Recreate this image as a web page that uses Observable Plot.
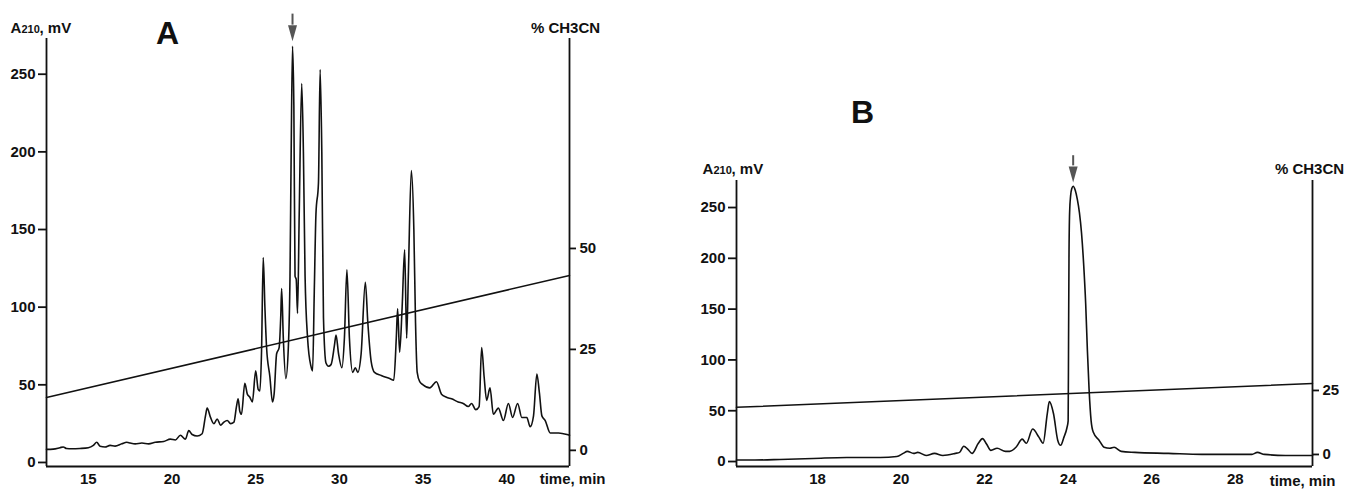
<!DOCTYPE html>
<html>
<head>
<meta charset="utf-8">
<script src="https://cdn.jsdelivr.net/npm/d3@7"></script>
<script src="https://cdn.jsdelivr.net/npm/@observablehq/plot@0.6"></script>
<style>
  html, body { margin: 0; padding: 0; background: #fff; }
  #wrap { position: relative; width: 1345px; height: 489px; overflow: hidden; }
  #pa { position: absolute; left: 0; top: 0; }
  #pb { position: absolute; left: 625px; top: 0; }
  svg { overflow: visible; }
</style>
</head>
<body>
<div id="wrap"><div id="pa"></div><div id="pb"></div></div>
<script>
// ---------- Panel A data ----------
const timeA = [12.5,12.9,13.3,13.5,13.7,14.0,14.5,15.0,15.3,15.5,15.7,16.0,16.3,16.6,17.0,17.3,17.5,17.8,18.2,18.6,19.0,19.5,19.9,20.2,20.5,20.8,21.0,21.2,21.5,21.8,22.0,22.1,22.3,22.5,22.7,22.9,23.1,23.3,23.5,23.7,23.85,23.95,24.05,24.15,24.35,24.5,24.65,24.8,25.0,25.15,25.25,25.35,25.45,25.55,25.65,25.85,26.0,26.1,26.25,26.4,26.5,26.55,26.65,26.8,26.95,27.05,27.12,27.2,27.28,27.35,27.42,27.5,27.6,27.75,27.85,27.95,28.1,28.3,28.4,28.5,28.6,28.75,28.85,28.95,29.05,29.2,29.35,29.5,29.7,29.8,29.95,30.15,30.3,30.45,30.6,30.8,30.95,31.1,31.3,31.55,31.7,31.9,32.1,32.5,33.0,33.25,33.4,33.48,33.6,33.75,33.9,34.02,34.12,34.3,34.45,34.55,34.65,34.8,35.0,35.4,35.8,36.1,36.4,36.7,37.1,37.4,37.7,37.9,38.15,38.35,38.5,38.65,38.8,39.0,39.2,39.5,39.8,40.1,40.35,40.65,40.9,41.2,41.4,41.6,41.8,41.95,42.1,42.3,42.6,43.1,43.6,43.75];
const mvA = [8.4,8.6,9.5,10,9,8.8,9,9.5,11,13,10.5,10,11,10.5,12,13,12.5,12,12.5,12,13,13.5,15,14.5,17.5,15,20.5,18,17,18.5,30,35,29,25,28,24,26,27,25,26,36,41,33,31,51,44,42,39,59,47,46,72,132,100,74,55,39,44,70,74,95,112,80,54,74,120,200,268,230,120,118,96,160,244,200,120,80,62,59,110,160,180,253,200,93,64,62,63,75,82,70,61,80,124,80,58,61,58,70,116,90,65,58,56,54,53,80,99,71,100,137,80,120,188,150,90,58,52,50,48,52,44,42,41,39,38,36,38,34,36,74,55,40,48,31,35,27,38,29,38,29,29,23,30,57,45,30,27,19,19,18,17.5];
const gradTimeA = [12.5, 43.75];
const gradPctA = [13.1, 43.3];
const xTicksA = [15, 20, 25, 30, 35, 40];
const yTicksA = [0, 50, 100, 150, 200, 250];
const pctTicksA = [0, 25, 50];
const xDomainA = [12.5, 43.75];
const yDomainA = [-2.6, 273];
const pctDomainA = [-4, 102];
const arrowA = {t: 27.2, top: 288.7, base: 281.6, tip: 271.3};

// ---------- Panel B data ----------
const timeB = [16.06,16.5,17.1,17.9,18.7,19.5,19.9,20.05,20.15,20.3,20.4,20.6,20.8,21.0,21.3,21.4,21.5,21.6,21.7,21.85,21.95,22.05,22.15,22.3,22.5,22.6,22.75,22.9,23.0,23.15,23.3,23.4,23.5,23.55,23.65,23.75,23.82,23.9,23.97,24.0,24.01,24.02,24.035,24.06,24.09,24.12,24.17,24.22,24.27,24.32,24.37,24.42,24.46,24.5,24.55,24.6,24.74,24.86,25.0,25.1,25.27,25.6,26.4,27.2,28.0,28.4,28.53,28.7,29.2,29.85];
const mvB = [1.5,1.5,2,3,4,4,5,8,10,8,9,6,8,6,8,9,15,12,8,18,22.5,17,11,13,10,10,14,22,18,32,24,18,47,59,47,21,16,24,33,40,120,200,245,262,269,271,267,258,245,225,195,155,110,72,40,29,21,14,13,14,10,9,8,7,7,7,9,7,6,6];
const gradTimeB = [16.06, 29.85];
const gradPctB = [18.4, 27.7];
const xTicksB = [18, 20, 22, 24, 26, 28];
const yTicksB = [0, 50, 100, 150, 200, 250];
const pctTicksB = [0, 25];
const xDomainB = [16.06, 29.85];
const yDomainB = [-4.9, 276.6];
const pctDomainB = [-4.7, 107];
const arrowB = {t: 24.12, top: 301, base: 291, tip: 274.6};

const FONT = "'Liberation Sans', Arial, Helvetica, sans-serif";
const headSymbol = {
  draw(ctx) { ctx.moveTo(0, 0); ctx.lineTo(-4.5, -16); ctx.lineTo(4.5, -16); ctx.closePath(); }
};

function panel(c) {
  const toMv = p => c.yDom[0] + (p - c.pDom[0]) / (c.pDom[1] - c.pDom[0]) * (c.yDom[1] - c.yDom[0]);
  const fromMv = v => c.pDom[0] + (v - c.yDom[0]) / (c.yDom[1] - c.yDom[0]) * (c.pDom[1] - c.pDom[0]);
  const trace = c.t.map((t, i) => ({t, v: c.v[i]}));
  const grad = c.gT.map((t, i) => ({t, v: toMv(c.gP[i])}));
  const arrow = [c.arrow];
  return Plot.plot({
    width: c.width, height: 489,
    marginLeft: c.ml, marginRight: c.mr, marginTop: c.mt, marginBottom: 23,
    x: {domain: c.xDom},
    y: {domain: c.yDom},
    style: {fontFamily: FONT, fontSize: "15px", fontWeight: "bold", color: "#111", background: "transparent"},
    marks: [
      Plot.ruleX(c.xDom, {stroke: "#111", strokeWidth: 1.8}),
      Plot.ruleY([c.yDom[0]], {stroke: "#111", strokeWidth: 1.8}),
      Plot.axisX(c.xTicks, {tickSize: 0, tickPadding: 7, label: null}),
      Plot.axisY(c.yTicks, {tickSize: 8, tickPadding: 3, label: null, strokeWidth: 1.8}),
      Plot.axisY(c.pTicks.map(toMv), {anchor: "right", tickSize: 6, tickPadding: 4, label: null, strokeWidth: 1.8,
        tickFormat: d => String(Math.round(fromMv(d)))}),
      Plot.line(grad, {x: "t", y: "v", stroke: "#111", strokeWidth: 1.5}),
      Plot.line(trace, {x: "t", y: "v", stroke: "#111", strokeWidth: 1.6, curve: "monotone-x"}),
      Plot.ruleX(arrow, {x: "t", y1: "top", y2: "base", stroke: "#555", strokeWidth: 2}),
      Plot.dot(arrow, {x: "t", y: "tip", symbol: headSymbol, r: 5, fill: "#555", stroke: null}),
      Plot.text([c.letter], {frameAnchor: "top-left", dx: c.letterDx, dy: c.letterDy, fontSize: 32, fontWeight: "bold", textAnchor: "middle", lineAnchor: "middle"}),
      Plot.text(["A"], {frameAnchor: "top-left", dx: c.yLabDx, dy: c.yLabDy, textAnchor: "start", lineAnchor: "bottom", fontSize: 15}),
      Plot.text(["210"], {frameAnchor: "top-left", dx: c.yLabDx + 11, dy: c.yLabDy, textAnchor: "start", lineAnchor: "bottom", fontSize: 11}),
      Plot.text([", mV"], {frameAnchor: "top-left", dx: c.yLabDx + 29, dy: c.yLabDy, textAnchor: "start", lineAnchor: "bottom", fontSize: 15}),
      Plot.text(["% CH3CN"], {frameAnchor: "top-right", dx: c.pLabDx, dy: c.yLabDy, textAnchor: "middle", lineAnchor: "bottom", fontSize: 15}),
      Plot.text(["time, min"], {frameAnchor: "bottom-right", dx: c.tLabDx, dy: c.tLabDy, textAnchor: "end", lineAnchor: "middle", fontSize: 15})
    ]
  });
}

document.getElementById("pa").append(panel({
  width: 625, ml: 46, mr: 56, mt: 38,
  t: timeA, v: mvA, gT: gradTimeA, gP: gradPctA,
  xDom: xDomainA, yDom: yDomainA, pDom: pctDomainA,
  xTicks: xTicksA, yTicks: yTicksA, pTicks: pctTicksA,
  arrow: arrowA,
  letter: "A", letterDx: 121, letterDy: -5,
  yLabDx: -36, yLabDy: -6, pLabDx: -4, tLabDx: 36, tLabDy: 13
}));
document.getElementById("pb").append(panel({
  width: 720, ml: 111, mr: 33, mt: 180,
  t: timeB, v: mvB, gT: gradTimeB, gP: gradPctB,
  xDom: xDomainB, yDom: yDomainB, pDom: pctDomainB,
  xTicks: xTicksB, yTicks: yTicksB, pTicks: pctTicksB,
  arrow: arrowB,
  letter: "B", letterDx: 126, letterDy: -68,
  yLabDx: -34, yLabDy: -7, pLabDx: -3, tLabDx: 23, tLabDy: 15
}));
</script>
</body>
</html>
